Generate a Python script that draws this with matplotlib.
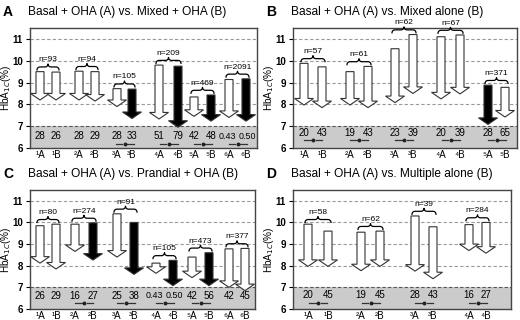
import matplotlib
matplotlib.use("Agg")
import matplotlib.pyplot as plt
import numpy as np

plt.rcParams['font.family'] = ['Liberation Sans', 'DejaVu Sans']

# ---- data ----
A_title = "Basal + OHA (A) vs. Mixed + OHA (B)"
A_top = [9.5, 9.48, 9.52, 9.5, 8.72, 8.7, 9.8, 9.75, 8.34, 8.43, 9.14, 9.17]
A_end = [8.2, 8.2, 8.2, 8.15, 7.9, 7.35, 7.33, 6.95, 7.45, 7.23, 7.4, 7.23]
A_fill = ['w', 'w', 'w', 'w', 'w', 'k', 'w', 'k', 'w', 'k', 'w', 'k']
A_pct = ['28', '26', '28', '29', '28', '33', '51', '79', '42', '48', '0.43', '0.50']
A_n = [93, 94, 105, 209, 469, 2091]
A_sig = [False, False, True, True, True, True]

B_title = "Basal + OHA (A) vs. Mixed alone (B)"
B_top = [9.88, 9.72, 9.5, 9.74, 10.55, 11.2, 11.1, 11.18, 8.88, 8.78]
B_end = [7.97, 7.85, 7.97, 7.85, 8.08, 8.5, 8.25, 8.48, 7.08, 7.42]
B_fill = ['w', 'w', 'w', 'w', 'w', 'w', 'w', 'w', 'k', 'w']
B_pct = ['20', '43', '19', '43', '23', '39', '20', '39', '28', '65']
B_n = [57, 61, 62, 67, 371]
B_sig = [True, True, True, True, True]

C_title = "Basal + OHA (A) vs. Prandial + OHA (B)"
C_top = [9.85, 9.92, 9.92, 9.98, 10.4, 10.0, 8.12, 8.25, 8.4, 8.6, 8.78, 8.8]
C_end = [8.12, 7.85, 8.66, 8.26, 8.4, 7.6, 7.65, 7.08, 7.45, 7.08, 7.0, 6.85]
C_fill = ['w', 'w', 'w', 'k', 'w', 'k', 'w', 'k', 'w', 'k', 'w', 'w']
C_pct = ['26', '29', '16', '27', '25', '38', '0.43', '0.50', '42', '56', '42', '45']
C_n = [80, 274, 91, 105, 473, 377]
C_sig = [False, True, True, True, True, False]

D_title = "Basal + OHA (A) vs. Multiple alone (B)"
D_top = [9.92, 9.6, 9.55, 9.6, 10.3, 9.8, 9.9, 10.0]
D_end = [7.97, 7.97, 7.77, 7.97, 7.75, 7.4, 8.7, 8.58]
D_fill = ['w'] * 8
D_pct = ['20', '45', '19', '45', '28', '43', '16', '27']
D_n = [58, 62, 39, 284]
D_sig = [True, True, True, True]

sup = ['¹', '²', '³', '⁴', '⁵', '⁶']

# arrow x positions (pixel units inside each panel)
A_x = [10, 26, 49, 65, 87, 102, 129, 148, 164, 181, 199, 216]
B_x = [11, 29, 57, 75, 102, 120, 148, 167, 195, 212]
C_x = [10, 26, 45, 63, 87, 104, 126, 143, 162, 179, 199, 215]
D_x = [15, 35, 68, 87, 122, 140, 176, 193]

W, H = 520, 320


def brace(ax, xa, xb, y0, h):
    r = 3.0
    xm = (xa + xb) / 2
    th = np.linspace(0, np.pi / 2, 12)
    x1 = xa + r - r * np.cos(th)
    y1 = y0 + h / 2 * np.sin(th)
    x2 = xm - r + r * np.sin(th)
    y2 = y0 + h / 2 + h / 2 * (1 - np.cos(th))
    lx = np.concatenate([x1, x2])
    ly = np.concatenate([y1, y2])
    ax.plot(np.concatenate([lx, 2 * xm - lx[::-1]]), np.concatenate([ly, ly[::-1]]),
            color='black', lw=0.9, clip_on=False, zorder=5)


def panel(rect, letter, title, xs, top, end, fill, pct, ns, sig, ynum, ysig):
    left, right, ytop, ybot = rect
    ax = fig.add_axes([left / W, 1 - ybot / H, (right - left) / W, (ybot - ytop) / H])
    ax.set_xlim(0, right - left)
    ax.set_ylim(6, 11.5)
    ax.axhspan(6, 7, color='#cbcbcb', lw=0, zorder=0)
    ax.axhline(7, color='#555555', ls=(0, (3, 2)), lw=0.8, zorder=1)
    for v in [8, 9, 10, 11]:
        ax.axhline(v, color='#9a9a9a', ls=(0, (3, 2)), lw=0.8, zorder=1)
    for x, t, e, f in zip(xs, top, end, fill):
        ax.arrow(x, t, 0, e - t, width=8, head_width=19, head_length=0.3,
                 length_includes_head=True, fc='black' if f == 'k' else 'white',
                 ec='#333333', lw=0.8, zorder=3)
    for i, (x, p) in enumerate(zip(xs, pct)):
        if '.' in p:
            shift = -1.2 if i % 2 == 0 else 1.2
            ax.text(x + shift, ynum, p, ha='center', va='center', fontsize=6.4, zorder=4)
        else:
            ax.text(x, ynum, p, ha='center', va='center', fontsize=7, zorder=4)
    for i, n in enumerate(ns):
        xa, xb = xs[2 * i], xs[2 * i + 1]
        y0 = max(top[2 * i], top[2 * i + 1]) + 0.08
        brace(ax, xa - 3, xb + 3, y0, 0.27)
        ax.text((xa + xb) / 2, y0 + 0.3, 'n=%d' % n, ha='center', va='bottom',
                fontsize=6, clip_on=False, zorder=5)
        if sig[i]:
            xm = (xa + xb) / 2
            ax.plot([xm - 9, xm - 2.5], [ysig, ysig], color='#333333', lw=0.9, zorder=4)
            ax.plot([xm + 2.5, xm + 9], [ysig, ysig], color='#333333', lw=0.9, zorder=4)
            ax.plot([xm], [ysig], 'o', ms=1.8, color='#222222', zorder=4)
    ax.set_yticks([6, 7, 8, 9, 10, 11])
    ax.set_yticklabels(['6', '7', '8', '9', '10', '11'], fontsize=7, fontweight='bold')
    ax.set_xticks(xs)
    ax.set_xticklabels([sup[i // 2] + ('A' if i % 2 == 0 else 'B') for i in range(len(xs))],
                       fontsize=7)
    ax.tick_params(axis='x', length=0, pad=1.5)
    ax.tick_params(axis='y', length=3, width=0.8, pad=2)
    ax.set_ylabel('HbA$_{1C}$(%)', fontsize=7.2)
    # label right edge about 17 px left of the frame
    ax.yaxis.set_label_coords(-17.0 / (right - left), 0.5)
    for s in ax.spines.values():
        s.set_color('#444444')
        s.set_linewidth(1)
    ty = ytop - 16
    fig.text((left - 27) / W, 1 - ty / H, letter, fontsize=10, fontweight='bold',
             ha='left', va='center')
    fig.text((left - 2) / W, 1 - ty / H, title, fontsize=8.6, ha='left', va='center')
    return ax


fig = plt.figure(figsize=(W / 100, H / 100), dpi=100)
panel((30, 256.5, 28, 148), 'A', A_title, A_x, A_top, A_end, A_fill, A_pct, A_n, A_sig, 6.53, 6.18)
panel((293, 517, 28, 148), 'B', B_title, B_x, B_top, B_end, B_fill, B_pct, B_n, B_sig, 6.7, 6.38)
panel((30, 255, 190, 309), 'C', C_title, C_x, C_top, C_end, C_fill, C_pct, C_n, C_sig, 6.62, 6.3)
panel((293, 511, 190, 309), 'D', D_title, D_x, D_top, D_end, D_fill, D_pct, D_n, D_sig, 6.65, 6.3)

fig.savefig('out.png', dpi=100)
